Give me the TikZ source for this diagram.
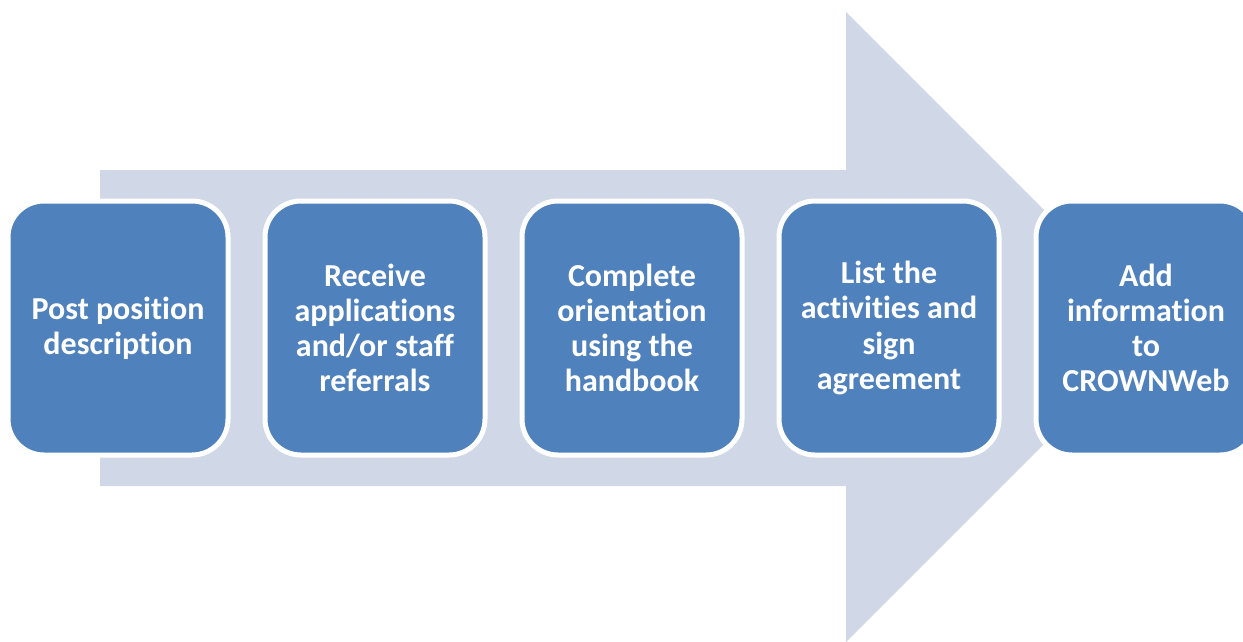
\documentclass[tikz,border=0pt]{standalone}
\usepackage{fontspec}
\setmainfont{Carlito}[Ligatures=NoCommon]
\definecolor{boxblue}{HTML}{4F81BD}
\definecolor{arrowfill}{HTML}{D0D8E8}
\begin{document}
\begin{tikzpicture}[x=1pt,y=-1pt,
  stepbox/.style={draw=white, line width=5pt, fill=boxblue, rounded corners=36pt,
    text=white, font=\bfseries\fontsize{32}{35.2}\selectfont, align=center,
    inner sep=0pt, minimum width=220pt, minimum height=254pt, rectangle}]
\useasboundingbox (0,0) rectangle (1243,641);
\clip (0,0) rectangle (1243,641);
\fill[arrowfill] (100,170) -- (846,170) -- (846,12) -- (1161,327) -- (846,642) -- (846,486) -- (100,486) -- cycle;
\node[stepbox] (s1) at (118,328) {Post position\\description};
\node[stepbox] (s2) at (375,328) {Receive\\applications\\and/or staff\\referrals};
\node[stepbox] (s3) at (632,328) {Complete\\orientation\\using the\\handbook};
\node[stepbox] (s4) at (889,328) {List the\\activities and\\sign\\agreement};
\node[stepbox] (s5) at (1146,328) {Add\\information\\to\\CROWNWeb};
\end{tikzpicture}
\end{document}
